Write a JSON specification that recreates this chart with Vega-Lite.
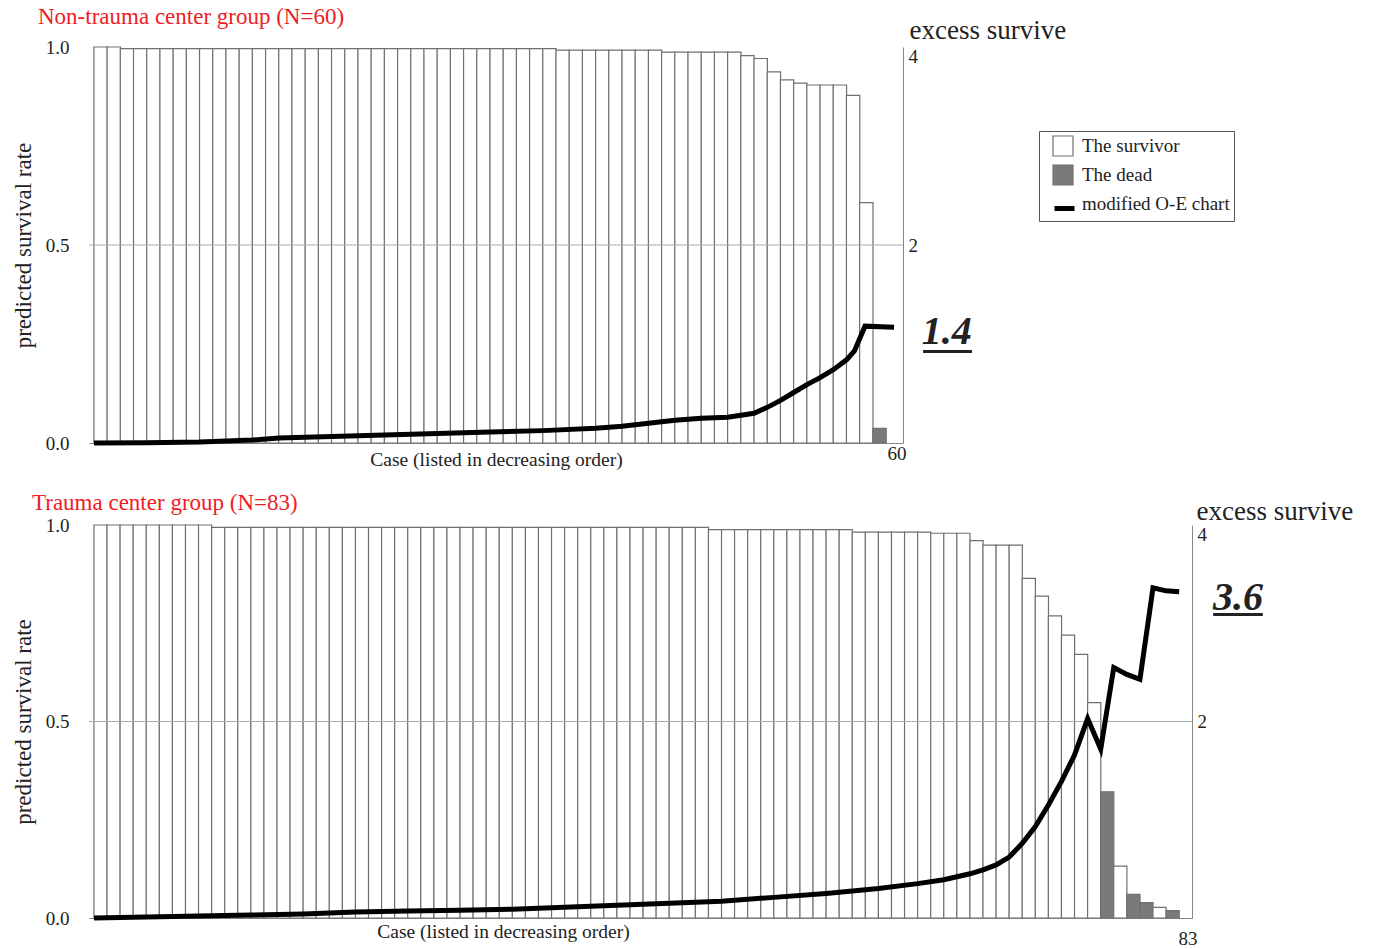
{
  "$schema": "https://vega.github.io/schema/vega-lite/v6.json",
  "padding": {"left": 12, "top": 6, "right": 0, "bottom": 0},
  "background": "white",
  "config": {
    "view": {"stroke": null},
    "font": "Liberation Serif",
    "axis": {"labelFont": "Liberation Serif", "titleFont": "Liberation Serif", "labelColor": "#222", "titleColor": "#222", "titleFontWeight": "normal", "grid": false, "ticks": false}
  },
  "datasets": {
    "one": [{}],
    "topBars": [
      {"case": 1, "ps": 1.0, "status": "The survivor"},
      {"case": 2, "ps": 1.0, "status": "The survivor"},
      {"case": 3, "ps": 0.996, "status": "The survivor"},
      {"case": 4, "ps": 0.996, "status": "The survivor"},
      {"case": 5, "ps": 0.996, "status": "The survivor"},
      {"case": 6, "ps": 0.996, "status": "The survivor"},
      {"case": 7, "ps": 0.996, "status": "The survivor"},
      {"case": 8, "ps": 0.996, "status": "The survivor"},
      {"case": 9, "ps": 0.996, "status": "The survivor"},
      {"case": 10, "ps": 0.996, "status": "The survivor"},
      {"case": 11, "ps": 0.996, "status": "The survivor"},
      {"case": 12, "ps": 0.996, "status": "The survivor"},
      {"case": 13, "ps": 0.996, "status": "The survivor"},
      {"case": 14, "ps": 0.996, "status": "The survivor"},
      {"case": 15, "ps": 0.996, "status": "The survivor"},
      {"case": 16, "ps": 0.996, "status": "The survivor"},
      {"case": 17, "ps": 0.996, "status": "The survivor"},
      {"case": 18, "ps": 0.996, "status": "The survivor"},
      {"case": 19, "ps": 0.996, "status": "The survivor"},
      {"case": 20, "ps": 0.996, "status": "The survivor"},
      {"case": 21, "ps": 0.996, "status": "The survivor"},
      {"case": 22, "ps": 0.996, "status": "The survivor"},
      {"case": 23, "ps": 0.996, "status": "The survivor"},
      {"case": 24, "ps": 0.996, "status": "The survivor"},
      {"case": 25, "ps": 0.996, "status": "The survivor"},
      {"case": 26, "ps": 0.996, "status": "The survivor"},
      {"case": 27, "ps": 0.996, "status": "The survivor"},
      {"case": 28, "ps": 0.996, "status": "The survivor"},
      {"case": 29, "ps": 0.996, "status": "The survivor"},
      {"case": 30, "ps": 0.996, "status": "The survivor"},
      {"case": 31, "ps": 0.996, "status": "The survivor"},
      {"case": 32, "ps": 0.996, "status": "The survivor"},
      {"case": 33, "ps": 0.996, "status": "The survivor"},
      {"case": 34, "ps": 0.996, "status": "The survivor"},
      {"case": 35, "ps": 0.996, "status": "The survivor"},
      {"case": 36, "ps": 0.992, "status": "The survivor"},
      {"case": 37, "ps": 0.992, "status": "The survivor"},
      {"case": 38, "ps": 0.992, "status": "The survivor"},
      {"case": 39, "ps": 0.992, "status": "The survivor"},
      {"case": 40, "ps": 0.992, "status": "The survivor"},
      {"case": 41, "ps": 0.992, "status": "The survivor"},
      {"case": 42, "ps": 0.992, "status": "The survivor"},
      {"case": 43, "ps": 0.992, "status": "The survivor"},
      {"case": 44, "ps": 0.987, "status": "The survivor"},
      {"case": 45, "ps": 0.987, "status": "The survivor"},
      {"case": 46, "ps": 0.987, "status": "The survivor"},
      {"case": 47, "ps": 0.987, "status": "The survivor"},
      {"case": 48, "ps": 0.987, "status": "The survivor"},
      {"case": 49, "ps": 0.987, "status": "The survivor"},
      {"case": 50, "ps": 0.978, "status": "The survivor"},
      {"case": 51, "ps": 0.971, "status": "The survivor"},
      {"case": 52, "ps": 0.937, "status": "The survivor"},
      {"case": 53, "ps": 0.917, "status": "The survivor"},
      {"case": 54, "ps": 0.909, "status": "The survivor"},
      {"case": 55, "ps": 0.904, "status": "The survivor"},
      {"case": 56, "ps": 0.904, "status": "The survivor"},
      {"case": 57, "ps": 0.904, "status": "The survivor"},
      {"case": 58, "ps": 0.878, "status": "The survivor"},
      {"case": 59, "ps": 0.607, "status": "The survivor"},
      {"case": 60, "ps": 0.037, "status": "The dead"}
    ],
    "topLine": [
      {"case": 0.5, "oe": 0}, {"case": 4.5, "oe": 0.003}, {"case": 8.5, "oe": 0.01},
      {"case": 12.5, "oe": 0.03}, {"case": 14.5, "oe": 0.05}, {"case": 18.5, "oe": 0.065},
      {"case": 22.5, "oe": 0.08}, {"case": 26.5, "oe": 0.095}, {"case": 30.5, "oe": 0.11},
      {"case": 34.5, "oe": 0.125}, {"case": 38.5, "oe": 0.15}, {"case": 40.5, "oe": 0.17},
      {"case": 42.5, "oe": 0.2}, {"case": 44.5, "oe": 0.23}, {"case": 46.5, "oe": 0.25},
      {"case": 48.5, "oe": 0.26}, {"case": 50.5, "oe": 0.3}, {"case": 51.5, "oe": 0.36},
      {"case": 52.5, "oe": 0.43}, {"case": 53.5, "oe": 0.51}, {"case": 54.5, "oe": 0.59},
      {"case": 55.5, "oe": 0.66}, {"case": 56.5, "oe": 0.74}, {"case": 57.5, "oe": 0.84},
      {"case": 58.1, "oe": 0.93}, {"case": 58.9, "oe": 1.18}, {"case": 61.1, "oe": 1.17}
    ],
    "bottomBars": [
      {"case": 1, "ps": 1.0, "status": "The survivor"},
      {"case": 2, "ps": 1.0, "status": "The survivor"},
      {"case": 3, "ps": 1.0, "status": "The survivor"},
      {"case": 4, "ps": 1.0, "status": "The survivor"},
      {"case": 5, "ps": 1.0, "status": "The survivor"},
      {"case": 6, "ps": 1.0, "status": "The survivor"},
      {"case": 7, "ps": 1.0, "status": "The survivor"},
      {"case": 8, "ps": 1.0, "status": "The survivor"},
      {"case": 9, "ps": 1.0, "status": "The survivor"},
      {"case": 10, "ps": 0.994, "status": "The survivor"},
      {"case": 11, "ps": 0.994, "status": "The survivor"},
      {"case": 12, "ps": 0.994, "status": "The survivor"},
      {"case": 13, "ps": 0.994, "status": "The survivor"},
      {"case": 14, "ps": 0.994, "status": "The survivor"},
      {"case": 15, "ps": 0.994, "status": "The survivor"},
      {"case": 16, "ps": 0.994, "status": "The survivor"},
      {"case": 17, "ps": 0.994, "status": "The survivor"},
      {"case": 18, "ps": 0.994, "status": "The survivor"},
      {"case": 19, "ps": 0.994, "status": "The survivor"},
      {"case": 20, "ps": 0.994, "status": "The survivor"},
      {"case": 21, "ps": 0.994, "status": "The survivor"},
      {"case": 22, "ps": 0.994, "status": "The survivor"},
      {"case": 23, "ps": 0.994, "status": "The survivor"},
      {"case": 24, "ps": 0.994, "status": "The survivor"},
      {"case": 25, "ps": 0.994, "status": "The survivor"},
      {"case": 26, "ps": 0.994, "status": "The survivor"},
      {"case": 27, "ps": 0.994, "status": "The survivor"},
      {"case": 28, "ps": 0.994, "status": "The survivor"},
      {"case": 29, "ps": 0.994, "status": "The survivor"},
      {"case": 30, "ps": 0.994, "status": "The survivor"},
      {"case": 31, "ps": 0.994, "status": "The survivor"},
      {"case": 32, "ps": 0.994, "status": "The survivor"},
      {"case": 33, "ps": 0.994, "status": "The survivor"},
      {"case": 34, "ps": 0.994, "status": "The survivor"},
      {"case": 35, "ps": 0.994, "status": "The survivor"},
      {"case": 36, "ps": 0.994, "status": "The survivor"},
      {"case": 37, "ps": 0.994, "status": "The survivor"},
      {"case": 38, "ps": 0.994, "status": "The survivor"},
      {"case": 39, "ps": 0.994, "status": "The survivor"},
      {"case": 40, "ps": 0.994, "status": "The survivor"},
      {"case": 41, "ps": 0.994, "status": "The survivor"},
      {"case": 42, "ps": 0.994, "status": "The survivor"},
      {"case": 43, "ps": 0.994, "status": "The survivor"},
      {"case": 44, "ps": 0.994, "status": "The survivor"},
      {"case": 45, "ps": 0.994, "status": "The survivor"},
      {"case": 46, "ps": 0.994, "status": "The survivor"},
      {"case": 47, "ps": 0.994, "status": "The survivor"},
      {"case": 48, "ps": 0.988, "status": "The survivor"},
      {"case": 49, "ps": 0.988, "status": "The survivor"},
      {"case": 50, "ps": 0.988, "status": "The survivor"},
      {"case": 51, "ps": 0.988, "status": "The survivor"},
      {"case": 52, "ps": 0.988, "status": "The survivor"},
      {"case": 53, "ps": 0.988, "status": "The survivor"},
      {"case": 54, "ps": 0.988, "status": "The survivor"},
      {"case": 55, "ps": 0.988, "status": "The survivor"},
      {"case": 56, "ps": 0.988, "status": "The survivor"},
      {"case": 57, "ps": 0.988, "status": "The survivor"},
      {"case": 58, "ps": 0.988, "status": "The survivor"},
      {"case": 59, "ps": 0.982, "status": "The survivor"},
      {"case": 60, "ps": 0.982, "status": "The survivor"},
      {"case": 61, "ps": 0.982, "status": "The survivor"},
      {"case": 62, "ps": 0.982, "status": "The survivor"},
      {"case": 63, "ps": 0.982, "status": "The survivor"},
      {"case": 64, "ps": 0.982, "status": "The survivor"},
      {"case": 65, "ps": 0.979, "status": "The survivor"},
      {"case": 66, "ps": 0.979, "status": "The survivor"},
      {"case": 67, "ps": 0.979, "status": "The survivor"},
      {"case": 68, "ps": 0.96, "status": "The survivor"},
      {"case": 69, "ps": 0.949, "status": "The survivor"},
      {"case": 70, "ps": 0.949, "status": "The survivor"},
      {"case": 71, "ps": 0.949, "status": "The survivor"},
      {"case": 72, "ps": 0.864, "status": "The survivor"},
      {"case": 73, "ps": 0.819, "status": "The survivor"},
      {"case": 74, "ps": 0.769, "status": "The survivor"},
      {"case": 75, "ps": 0.72, "status": "The survivor"},
      {"case": 76, "ps": 0.671, "status": "The survivor"},
      {"case": 77, "ps": 0.548, "status": "The survivor"},
      {"case": 78, "ps": 0.321, "status": "The dead"},
      {"case": 79, "ps": 0.132, "status": "The survivor"},
      {"case": 80, "ps": 0.06, "status": "The dead"},
      {"case": 81, "ps": 0.039, "status": "The dead"},
      {"case": 82, "ps": 0.027, "status": "The survivor"},
      {"case": 83, "ps": 0.019, "status": "The dead"}
    ],
    "bottomLine": [
      {"case": 0.5, "oe": 0}, {"case": 4.5, "oe": 0.01}, {"case": 8.5, "oe": 0.02},
      {"case": 12.5, "oe": 0.03}, {"case": 16.5, "oe": 0.04}, {"case": 20.5, "oe": 0.06},
      {"case": 24.5, "oe": 0.07}, {"case": 28.5, "oe": 0.08}, {"case": 32.5, "oe": 0.09},
      {"case": 36.5, "oe": 0.11}, {"case": 40.5, "oe": 0.13}, {"case": 44.5, "oe": 0.15},
      {"case": 48.5, "oe": 0.17}, {"case": 52.5, "oe": 0.21}, {"case": 56.5, "oe": 0.25},
      {"case": 60.5, "oe": 0.3}, {"case": 63.5, "oe": 0.35}, {"case": 65.5, "oe": 0.39},
      {"case": 67.5, "oe": 0.45}, {"case": 68.5, "oe": 0.49}, {"case": 69.5, "oe": 0.54},
      {"case": 70.5, "oe": 0.62}, {"case": 71.5, "oe": 0.76}, {"case": 72.5, "oe": 0.93},
      {"case": 73.5, "oe": 1.15}, {"case": 74.5, "oe": 1.39}, {"case": 75.5, "oe": 1.66},
      {"case": 76.5, "oe": 2.03}, {"case": 77.5, "oe": 1.72}, {"case": 78.5, "oe": 2.55},
      {"case": 79.5, "oe": 2.48}, {"case": 80.5, "oe": 2.43}, {"case": 81.5, "oe": 3.36},
      {"case": 82.5, "oe": 3.33}, {"case": 83.5, "oe": 3.32}
    ]
  },
  "vconcat": [
    {
      "width": 814,
      "height": 396,
      "title": {"text": "Non-trauma center group (N=60)", "color": "#ee1c25", "fontSize": 23, "fontWeight": "normal", "font": "Liberation Serif", "anchor": "start", "frame": "group", "dx": -51, "baseline": "bottom", "offset": -36},
      "layer": [
        {
          "data": {"name": "topBars"},
          "mark": {"type": "bar", "width": 13.37, "strokeWidth": 1.2},
          "encoding": {
            "x": {"field": "case", "type": "quantitative", "scale": {"domain": [0.5, 61.4], "nice": false, "zero": false},
              "axis": {"orient": "bottom", "title": "Case (listed in decreasing order)", "values": [60], "format": "d", "domain": true, "domainColor": "#888", "labelFontSize": 19, "labelPadding": 1, "labelOffset": 17, "titleFontSize": 19.5, "titleBaseline": "middle", "titleY": 16}},
            "y": {"field": "ps", "type": "quantitative", "scale": {"domain": [0, 1], "nice": false},
              "axis": {"orient": "left", "title": "predicted survival rate", "values": [0, 0.5, 1], "format": ".1f", "domain": false, "labelFontSize": 19, "labelPadding": 20, "titleFontSize": 23, "titlePadding": 10}},
            "fill": {"field": "status", "type": "nominal",
              "scale": {"domain": ["The survivor", "The dead", "modified O-E chart"], "range": ["#ffffff", "#7a7a7a", "transparent"]},
              "legend": {"title": null, "orient": "none", "legendX": 950, "legendY": 84, "strokeColor": "#555", "fillColor": "white", "padding": 4, "symbolOffset": 9, "labelFont": "Liberation Serif", "labelFontSize": 19, "labelColor": "#222", "symbolSize": 400, "symbolType": "square", "symbolStrokeWidth": 1.2, "rowPadding": 3, "labelOffset": 8, "zindex": 1}},
            "stroke": {"field": "status", "type": "nominal",
              "scale": {"domain": ["The survivor", "The dead", "modified O-E chart"], "range": ["#707070", "#707070", "transparent"]},
              "legend": {"title": null, "orient": "none", "legendX": 950, "legendY": 84, "strokeColor": "#555", "fillColor": "white", "padding": 4, "symbolOffset": 9, "labelFont": "Liberation Serif", "labelFontSize": 19, "labelColor": "#222", "symbolSize": 400, "symbolType": "square", "symbolStrokeWidth": 1.2, "rowPadding": 3, "labelOffset": 8, "zindex": 1}}
          }
        },
        {
          "data": {"name": "one"},
          "mark": {"type": "rule", "color": "#aaaaaa", "strokeWidth": 1},
          "encoding": {"y": {"datum": 0.5, "type": "quantitative", "scale": {"domain": [0, 1], "nice": false}, "axis": null}}
        },
        {
          "data": {"name": "topLine"},
          "mark": {"type": "line", "strokeWidth": 5},
          "encoding": {
            "x": {"field": "case", "type": "quantitative"},
            "y": {"field": "oe", "type": "quantitative", "scale": {"domain": [0, 4], "nice": false},
              "axis": {"orient": "right", "title": "excess survive", "values": [0, 2, 4], "format": "d", "labelExpr": "datum.value == 0 ? '' : datum.label", "domain": true, "domainColor": "#888", "labelFontSize": 19, "labelPadding": 5, "labelFlush": true, "titleAngle": 0, "titleAlign": "left", "titleBaseline": "middle", "titleX": 6, "titleY": -17, "titleFontSize": 27}},
            "color": {"datum": "modified O-E chart", "scale": {"range": ["#000000"]},
              "legend": {"title": null, "orient": "none", "legendX": 950, "legendY": 145, "padding": 4, "symbolOffset": 9, "labelFont": "Liberation Serif", "labelFontSize": 19, "labelExpr": "''", "symbolSize": 400, "symbolType": "stroke", "symbolStrokeWidth": 5, "rowPadding": 3, "labelOffset": 8, "zindex": 2}}
          }
        },
        {
          "data": {"name": "one"},
          "mark": {"type": "text", "font": "Liberation Serif", "fontSize": 40, "fontWeight": "bold", "fontStyle": "italic", "color": "#222"},
          "encoding": {
            "x": {"datum": 65.1, "type": "quantitative"},
            "y": {"datum": 1.12, "type": "quantitative", "scale": {"domain": [0, 4], "nice": false}, "axis": null},
            "text": {"value": "1.4"}
          }
        },
        {
          "data": {"name": "one"},
          "mark": {"type": "rule", "strokeWidth": 3, "color": "#222"},
          "encoding": {
            "x": {"datum": 63.3, "type": "quantitative"},
            "x2": {"datum": 67.0},
            "y": {"datum": 0.925, "type": "quantitative", "scale": {"domain": [0, 4], "nice": false}, "axis": null}
          }
        }
      ],
      "resolve": {"scale": {"y": "independent"}}
    },
    {
      "width": 1103,
      "height": 393,
      "title": {"text": "Trauma center group (N=83)", "color": "#ee1c25", "fontSize": 23, "fontWeight": "normal", "font": "Liberation Serif", "anchor": "start", "frame": "group", "dx": -57, "baseline": "bottom", "offset": -41},
      "layer": [
        {
          "data": {"name": "bottomBars"},
          "mark": {"type": "bar", "width": 13.19, "strokeWidth": 1.2},
          "encoding": {
            "x": {"field": "case", "type": "quantitative", "scale": {"domain": [0.5, 84.1], "nice": false, "zero": false},
              "axis": {"orient": "bottom", "title": "Case (listed in decreasing order)", "values": [83], "format": "d", "domain": true, "domainColor": "#888", "labelFontSize": 19, "labelPadding": 11, "labelOffset": 15, "titleFontSize": 19.5, "titleBaseline": "middle", "titleY": 13, "titleX": 414, "titleAlign": "center"}},
            "y": {"field": "ps", "type": "quantitative", "scale": {"domain": [0, 1], "nice": false},
              "axis": {"orient": "left", "title": "predicted survival rate", "values": [0, 0.5, 1], "format": ".1f", "domain": false, "labelFontSize": 19, "labelPadding": 20, "titleFontSize": 23, "titlePadding": 10}},
            "fill": {"field": "status", "type": "nominal", "legend": null},
            "stroke": {"field": "status", "type": "nominal", "legend": null}
          }
        },
        {
          "data": {"name": "one"},
          "mark": {"type": "rule", "color": "#aaaaaa", "strokeWidth": 1},
          "encoding": {"y": {"datum": 0.5, "type": "quantitative", "scale": {"domain": [0, 1], "nice": false}, "axis": null}}
        },
        {
          "data": {"name": "bottomLine"},
          "mark": {"type": "line", "strokeWidth": 5},
          "encoding": {
            "x": {"field": "case", "type": "quantitative"},
            "y": {"field": "oe", "type": "quantitative", "scale": {"domain": [0, 4], "nice": false},
              "axis": {"orient": "right", "title": "excess survive", "values": [0, 2, 4], "format": "d", "labelExpr": "datum.value == 0 ? '' : datum.label", "domain": true, "domainColor": "#888", "labelFontSize": 19, "labelPadding": 5, "labelFlush": true, "titleAngle": 0, "titleAlign": "left", "titleBaseline": "middle", "titleX": 4, "titleY": -14, "titleFontSize": 27}},
            "color": {"datum": "modified O-E chart", "legend": null}
          }
        },
        {
          "data": {"name": "one"},
          "mark": {"type": "text", "font": "Liberation Serif", "fontSize": 40, "fontWeight": "bold", "fontStyle": "italic", "color": "#222"},
          "encoding": {
            "x": {"datum": 88.0, "type": "quantitative"},
            "y": {"datum": 3.26, "type": "quantitative", "scale": {"domain": [0, 4], "nice": false}, "axis": null},
            "text": {"value": "3.6"}
          }
        },
        {
          "data": {"name": "one"},
          "mark": {"type": "rule", "strokeWidth": 3, "color": "#222"},
          "encoding": {
            "x": {"datum": 86.1, "type": "quantitative"},
            "x2": {"datum": 89.9},
            "y": {"datum": 3.09, "type": "quantitative", "scale": {"domain": [0, 4], "nice": false}, "axis": null}
          }
        }
      ],
      "resolve": {"scale": {"y": "independent"}}
    }
  ],
  "spacing": 23,
  "resolve": {"legend": {"color": "independent", "fill": "independent", "stroke": "independent"}}
}
